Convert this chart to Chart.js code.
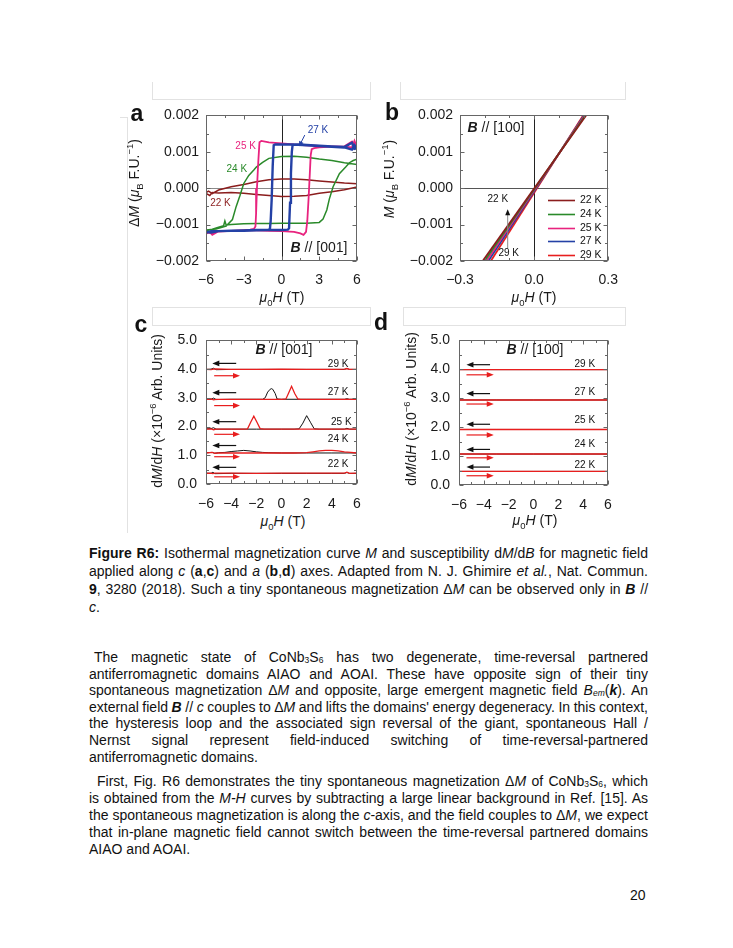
<!DOCTYPE html>
<html>
<head>
<meta charset="utf-8">
<script src="https://cdn.jsdelivr.net/npm/chart.js@4.4.0/dist/chart.umd.min.js"></script>
<style>
  body { margin: 0; width: 733px; height: 948px; position: relative; overflow: hidden; background: #fff;
         font-family: Arial, "Liberation Sans", sans-serif; color: #111; }
  canvas { position: absolute; }
  .t { position: absolute; white-space: nowrap; font-size: 14px; transform: translate(-50%, -50%); color: #1a1a1a; }
  .rot { transform: translate(-50%, -50%) rotate(-90deg); }
  .t sub, .t sup { font-size: 9.5px; line-height: 0; }
  .letter { position: absolute; font-weight: bold; font-size: 23px; transform: translate(-50%, -50%); }
  .box { position: absolute; border: 1px solid #e2e2e2; }
  .txt { position: absolute; left: 89px; width: 559px; font-size: 14px; color: #111; }
  .txt div { white-space: nowrap; text-align: left; }
  .txt sub { font-size: 8.5px; line-height: 0; vertical-align: -1px; }
  .pg { position: absolute; left: 630px; top: 887px; font-size: 14px; }
</style>
</head>
<body>

<!-- faint crop frames of the original figure -->
<div class="box" style="left:152px;top:82px;width:217px;height:17px;border-top:none"></div>
<div class="box" style="left:400px;top:82px;width:224px;height:17px;border-top:none"></div>
<div class="box" style="left:152px;top:307px;width:217px;height:17px"></div>
<div class="box" style="left:403px;top:307px;width:221px;height:17px"></div>
<div class="box" style="left:120px;top:117px;width:7px;height:415px;border-top:1px solid #e2e2e2;border-right:1px solid #e2e2e2;border-left:none;border-bottom:none"></div>

<canvas id="chartA" width="235" height="190" style="left:140px;top:100px"></canvas>
<canvas id="chartB" width="235" height="190" style="left:394px;top:100px"></canvas>
<canvas id="chartC" width="235" height="190" style="left:140px;top:323px"></canvas>
<canvas id="chartD" width="235" height="190" style="left:393px;top:323px"></canvas>

<div class="letter" style="left:137px;top:113px">a</div>
<div class="letter" style="left:392px;top:112px">b</div>
<div class="letter" style="left:141px;top:324px">c</div>
<div class="letter" style="left:381px;top:322px">d</div>

<div class="t rot" style="left:134px;top:183px">Δ<i>M</i> (<i>μ</i><sub>B</sub> F.U.<sup>−1</sup>)</div>
<div class="t rot" style="left:389px;top:179px"><i>M</i> (<i>μ</i><sub>B</sub> F.U.<sup>−1</sup>)</div>
<div class="t rot" style="left:157px;top:411px">d<i>M</i>/d<i>H</i> (×10<sup>−6</sup> Arb. Units)</div>
<div class="t rot" style="left:411px;top:409px">d<i>M</i>/d<i>H</i> (×10<sup>−6</sup> Arb. Units)</div>

<div class="t" style="left:282px;top:297px"><i>μ</i><sub>0</sub><i>H</i> (T)</div>
<div class="t" style="left:534px;top:297px"><i>μ</i><sub>0</sub><i>H</i> (T)</div>
<div class="t" style="left:283px;top:521px"><i>μ</i><sub>0</sub><i>H</i> (T)</div>
<div class="t" style="left:535px;top:520px"><i>μ</i><sub>0</sub><i>H</i> (T)</div>

<div class="t" style="left:319px;top:247px"><b><i>B</i></b> // [001]</div>
<div class="t" style="left:496px;top:127px"><b><i>B</i></b> // [100]</div>
<div class="t" style="left:284px;top:349px"><b><i>B</i></b> // [001]</div>
<div class="t" style="left:535px;top:349px"><b><i>B</i></b> // [100]</div>

<div class="txt" style="top:544px;line-height:18px">
  <div><b>Figure R6:</b> Isothermal magnetization curve <i>M</i> and susceptibility d<i>M</i>/d<i>B</i> for magnetic field</div>
  <div>applied along <i>c</i> (<b>a</b>,<b>c</b>) and <i>a</i> (<b>b</b>,<b>d</b>) axes. Adapted from N. J. Ghimire <i>et al.</i>, Nat. Commun.</div>
  <div><b>9</b>, 3280 (2018). Such a tiny spontaneous magnetization Δ<i>M</i> can be observed only in <b><i>B</i></b> //</div>
  <div class="end"><i>c</i>.</div>
</div>

<div class="txt" style="top:649px;line-height:16.6px">
  <div style="padding-left:5px">The magnetic state of CoNb<sub>3</sub>S<sub>6</sub> has two degenerate, time-reversal partnered</div>
  <div>antiferromagnetic domains AIAO and AOAI. These have opposite sign of their tiny</div>
  <div>spontaneous magnetization Δ<i>M</i> and opposite, large emergent magnetic field <i>B<sub>em</sub></i>(<b><i>k</i></b>). An</div>
  <div>external field <b><i>B</i></b> // <i>c</i> couples to Δ<i>M</i> and lifts the domains' energy degeneracy. In this context,</div>
  <div>the hysteresis loop and the associated sign reversal of the giant, spontaneous Hall /</div>
  <div>Nernst signal represent field-induced switching of time-reversal-partnered</div>
  <div class="end">antiferromagnetic domains.</div>
</div>

<div class="txt" style="top:773px;line-height:17px">
  <div style="padding-left:8px">First, Fig. R6 demonstrates the tiny spontaneous magnetization Δ<i>M</i> of CoNb<sub>3</sub>S<sub>6</sub>, which</div>
  <div>is obtained from the <i>M-H</i> curves by subtracting a large linear background in Ref. [15]. As</div>
  <div>the spontaneous magnetization is along the <i>c</i>-axis, and the field couples to Δ<i>M</i>, we expect</div>
  <div>that in-plane magnetic field cannot switch between the time-reversal partnered domains</div>
  <div class="end">AIAO and AOAI.</div>
</div>

<div class="pg">20</div>

<script>
// ---- panel a: spontaneous magnetization loops (field in T, dM in muB/F.U.)
const a22H = [6,5,4,3,2,1,0,-1,-2,-3,-4,-5,-5.5,-5.8,-6, -6,-5.7,-5.5,-5,-4,-3,-2,-1,0,1,2,3,4,5,6];
const a22M = [0.00012,0.00014,0.00017,0.0002,0.00023,0.00025,0.00025,0.00023,0.00018,0.0001,0.00004,-0.00005,-0.00015,-0.00008,-0.00012,
              -0.00014,-0.0002,-0.00012,-0.00013,-0.00012,-0.00014,-0.00017,-0.0002,-0.00023,-0.00022,-0.0002,-0.00014,-0.0001,-0.00004,0.00003];
const a24H = [6,5,4,3,2,1,0,-1,-1.5,-2,-2.2,-2.6,-3,-3.3,-3.6,-3.9,-4.4,-5.2,-6,
              -6,-5.5,-5,-4.6,-4.5,-4.4,-4,-3,-2,-1,0,1,2,3,3.3,3.6,3.8,4.1,4.6,5.1,5.4,5.7,6];
const a24M = [0.00065,0.0007,0.00076,0.0008,0.00085,0.00088,0.00087,0.00082,0.00071,0.00058,0.0005,0.00035,0.00013,-0.0002,-0.0005,-0.00086,-0.00104,-0.00112,-0.00115,
              -0.00117,-0.00113,-0.00107,-0.00103,-0.0009,-0.00101,-0.001,-0.00098,-0.00097,-0.00097,-0.00096,-0.00096,-0.00096,-0.00094,-0.00085,-0.0006,-0.0003,0.00004,0.0004,0.00058,0.0007,0.00076,0.0008];
const a25H = [6,5.8,5.6,5,4,3,2,1,0,-1,-1.6,-1.75,-1.85,-1.95,-2.02,-2.07,-2.2,-2.5,-3,-4,-5,-5.5,-6,
              -6,-5.7,-5.5,-5,-4,-3,-2,-1,0,1,1.5,1.75,1.95,2.05,2.15,2.25,2.32,2.4,2.6,3,4,5,5.6,5.8,6];
const a25M = [0.00112,0.0013,0.00112,0.00114,0.00115,0.00116,0.00118,0.0012,0.00123,0.00126,0.0013,0.00126,0.0007,0.0,-0.0007,-0.00105,-0.00112,-0.00114,-0.00115,-0.00117,-0.00119,-0.00125,-0.0012,
              -0.00125,-0.0012,-0.00128,-0.00118,-0.00117,-0.00116,-0.00116,-0.00117,-0.00118,-0.0012,-0.00124,-0.00128,-0.0012,-0.0009,-0.0003,0.0004,0.0009,0.00107,0.0011,0.00112,0.00114,0.00115,0.00128,0.00112,0.00112];
const a27H = [6,5.8,5.6,5,4,3,2,1,0,-0.5,-0.62,-0.7,-0.78,-0.86,-0.92,-1.1,-2,-3,-4,-5,-5.6,-6,
              -6,-5.6,-5,-4,-3,-2,-1,0,0.5,0.6,0.68,0.75,0.82,0.88,1.0,1.5,2,3,4,5,5.6,5.8,6];
const a27M = [0.00108,0.00118,0.00106,0.00112,0.00114,0.00116,0.00118,0.0012,0.0012,0.0012,0.00118,0.0006,-0.0003,-0.0009,-0.00112,-0.00115,-0.00116,-0.00117,-0.00117,-0.00118,-0.00122,-0.0012,
              -0.00122,-0.00118,-0.00118,-0.00117,-0.00116,-0.00115,-0.00115,-0.00115,-0.00114,-0.0011,-0.0004,0.0004,0.001,0.00118,0.0012,0.0012,0.00119,0.00117,0.00115,0.00113,0.00125,0.00108,0.0011];

// ---- panel b: in-plane M-H (linear)
const temps = ['22 K', '24 K', '25 K', '27 K', '29 K'];
const bH = [-0.25, 0.25];
const bM = [
  [-0.0024, 0.00238],
  [-0.00248, 0.00242],
  [-0.00257, 0.00246],
  [-0.00267, 0.0025],
  [-0.0028, 0.00255]
];

// ---- panel c: dM/dH, B // [001], offset curves (black = down sweep, red = up sweep)
const c22H = [-6,-5.6,-5.45,-5.3,-4,-2,0,2,4,5,5.2,5.4,6];
const c22Down = [0.38,0.37,0.41,0.36,0.37,0.37,0.37,0.37,0.37,0.37,0.4,0.37,0.37];
const c22Up   = [0.37,0.38,0.36,0.38,0.38,0.37,0.38,0.38,0.38,0.38,0.41,0.37,0.38];
const c24DownH = [-6,-5.5,-5.3,-5,-4.5,-4,-3.5,-3,-2.5,-2,-1.5,-1,0,2,4,6];
const c24Down  = [1.09,1.1,1.07,1.09,1.1,1.13,1.15,1.17,1.15,1.12,1.1,1.09,1.08,1.08,1.08,1.08];
const c24UpH = [-6,-5.5,-5.3,-5,-4,-2,0,1,2,2.5,3,3.5,4,4.5,5,5.5,6];
const c24Up  = [1.08,1.1,1.07,1.08,1.08,1.08,1.08,1.08,1.09,1.12,1.15,1.17,1.17,1.15,1.12,1.1,1.08];
const c25DownH = [-6,-5.6,-5.4,-5.2,-4,-2,0,1,1.4,1.7,2.0,2.3,2.6,3,4,5,5.2,5.4,6];
const c25Down  = [1.92,1.93,1.96,1.91,1.91,1.91,1.91,1.91,1.92,2.12,2.38,2.15,1.92,1.91,1.91,1.91,1.94,1.91,1.91];
const c25UpH = [-6,-5.6,-5.4,-5.2,-4,-3,-2.7,-2.45,-2.2,-1.95,-1.7,-1.4,-1,0,2,4,6];
const c25Up  = [1.91,1.92,1.89,1.91,1.91,1.91,1.92,2.15,2.36,2.15,1.93,1.91,1.91,1.91,1.91,1.91,1.91];
const c27DownH = [-6,-5.6,-5.4,-5.2,-4,-2,-1.5,-1.3,-1.1,-0.9,-0.8,-0.7,-0.5,-0.35,0,2,4,5,5.2,5.4,6];
const c27Down  = [2.96,2.95,2.99,2.94,2.95,2.95,2.95,3.0,3.2,3.3,3.32,3.3,3.15,2.96,2.95,2.95,2.95,2.95,2.97,2.95,2.95];
const c27UpH = [-6,-5.6,-5.4,-5.2,-4,-2,0,0.35,0.55,0.8,1.05,1.3,1.5,2,4,6];
const c27Up  = [2.95,2.96,2.93,2.95,2.95,2.95,2.95,2.96,3.15,3.4,3.15,2.96,2.95,2.95,2.95,2.95];
const c29H = [-6,-5.6,-5.4,-5.2,-4,-2,0,2,4,5,5.2,5.4,6];
const c29Down = [3.99,4.0,4.03,3.98,3.99,3.99,3.99,3.99,3.99,3.99,4.02,3.99,3.99];
const c29Up   = [3.99,3.98,4.0,4.01,3.99,3.99,4.0,3.99,3.99,4.0,4.02,3.99,3.99];

// ---- panel d: dM/dH, B // [100], flat curves
const dH = [-6,-3,0,3,6];
const d22 = [0.47,0.47,0.47,0.47,0.47];
const d24 = [1.07,1.07,1.07,1.07,1.07];
const d25 = [1.92,1.92,1.92,1.92,1.92];
const d27 = [2.94,2.94,2.94,2.94,2.94];
const d29 = [3.99,3.99,3.99,3.99,3.99];

// sweep-direction arrows (levels) for c and d
const cArrowDown = [0.58, 1.34, 2.17, 3.18, 4.2];
const cArrowUp   = [0.25, 0.95, 1.73, 2.73, 3.77];
const dArrowDown = [0.62, 1.23, 2.1, 3.16, 4.16];
const dArrowUp   = [0.32, 0.94, 1.73, 2.8, 3.81];

const col = { k22: '#8b1d1d', k24: '#2a8a2a', k25: '#e8237e', k27: '#2441a6', k29: '#e81e1e' };
const FONT = 'Arial, "Liberation Sans", sans-serif';

// justify the text lines by word spacing (keeps the original line breaks)
document.querySelectorAll('.txt div').forEach(div => {
  div.innerHTML = '<span>' + div.innerHTML.trim() + '</span>';
  if (div.classList.contains('end')) return;
  const span = div.firstChild;
  const pad = parseFloat(div.style.paddingLeft || 0);
  const w = span.getBoundingClientRect().width;
  const gaps = (span.textContent.match(/ +/g) || []).length;
  if (gaps) span.style.wordSpacing = ((559 - pad - w) / gaps) + 'px';
});

function pts(xs, ys) { return xs.map((x, i) => ({ x: x, y: ys[i] })); }
function minus(s) { return s.replace('-', '\u2212'); }
function line(label, xs, ys, color, width) {
  return { label: label, data: pts(xs, ys), borderColor: color, backgroundColor: color,
           borderWidth: width, showLine: true, pointRadius: 0, tension: 0 };
}

// frame, inward ticks, zero lines, notes, arrows, key
function deco(cfg) {
  return {
    id: 'deco',
    beforeDatasetsDraw(chart) {
      const { ctx, chartArea: a, scales: { x, y } } = chart;
      ctx.save();
      (cfg.zero || []).forEach(z => {
        ctx.strokeStyle = z.color;
        ctx.lineWidth = 1;
        ctx.beginPath();
        if (z.axis === 'x') {
          const px = Math.round(x.getPixelForValue(0)) + 0.5;
          ctx.moveTo(px, a.top); ctx.lineTo(px, a.bottom);
        } else {
          const py = Math.round(y.getPixelForValue(0)) + 0.5;
          ctx.moveTo(a.left, py); ctx.lineTo(a.right, py);
        }
        ctx.stroke();
      });
      ctx.restore();
    },
    afterDatasetsDraw(chart) {
      const { ctx, chartArea: a, scales: { x, y } } = chart;
      ctx.save();
      ctx.strokeStyle = '#666';
      ctx.lineWidth = 1;
      const L = Math.round(a.left) + 0.5, R = Math.round(a.right) - 0.5;
      const T = Math.round(a.top) + 0.5, B = Math.round(a.bottom) - 0.5;
      ctx.strokeRect(L, T, R - L, B - T);

      ctx.beginPath();
      const n = Math.round((x.max - x.min) / cfg.xMinor);
      for (let i = 0; i <= n; i++) {
        const v = x.min + i * cfg.xMinor;
        const major = Math.abs(v / cfg.xMajor - Math.round(v / cfg.xMajor)) < 1e-6;
        const len = major ? 4 : 2.5;
        const px = Math.round(x.getPixelForValue(v)) + 0.5;
        ctx.moveTo(px, B); ctx.lineTo(px, B - len);
        ctx.moveTo(px, T); ctx.lineTo(px, T + len);
      }
      const m = Math.round((y.max - y.min) / cfg.yMinor);
      for (let i = 0; i <= m; i++) {
        const v = y.min + i * cfg.yMinor;
        const major = Math.abs(v / cfg.yMajor - Math.round(v / cfg.yMajor)) < 1e-6;
        const len = major ? 4 : 2.5;
        const py = Math.round(y.getPixelForValue(v)) + 0.5;
        ctx.moveTo(L, py); ctx.lineTo(L + len, py);
        ctx.moveTo(R, py); ctx.lineTo(R - len, py);
      }
      ctx.stroke();

      // arrows
      (cfg.arrows || []).forEach(ar => {
        const x0 = x.getPixelForValue(ar.x0), y0 = y.getPixelForValue(ar.y0);
        const x1 = x.getPixelForValue(ar.x1), y1 = y.getPixelForValue(ar.y1);
        const ang = Math.atan2(y1 - y0, x1 - x0);
        const hl = ar.head || 7, hw = ar.hw || 2.8;
        ctx.strokeStyle = ar.shaft || ar.color;
        ctx.lineWidth = ar.width || 1.2;
        ctx.beginPath();
        ctx.moveTo(x0, y0);
        ctx.lineTo(x1 - Math.cos(ang) * hl * 0.8, y1 - Math.sin(ang) * hl * 0.8);
        ctx.stroke();
        ctx.fillStyle = ar.color;
        ctx.beginPath();
        ctx.moveTo(x1, y1);
        ctx.lineTo(x1 - Math.cos(ang) * hl - Math.sin(ang) * hw, y1 - Math.sin(ang) * hl + Math.cos(ang) * hw);
        ctx.lineTo(x1 - Math.cos(ang) * hl + Math.sin(ang) * hw, y1 - Math.sin(ang) * hl - Math.cos(ang) * hw);
        ctx.closePath();
        ctx.fill();
      });

      // text notes
      ctx.font = '10px ' + FONT;
      ctx.textAlign = 'center';
      ctx.textBaseline = 'middle';
      (cfg.notes || []).forEach(nt => {
        ctx.fillStyle = nt.color || '#111';
        ctx.fillText(nt.text, x.getPixelForValue(nt.x), y.getPixelForValue(nt.y));
      });

      // line key (panel b)
      if (cfg.key) {
        const k = cfg.key;
        ctx.textAlign = 'left';
        ctx.font = '10.5px ' + FONT;
        chart.data.datasets.forEach((ds, i) => {
          const py = Math.round(a.top + k.top + i * k.step) + 0.5;
          ctx.strokeStyle = ds.borderColor;
          ctx.lineWidth = 1.6;
          ctx.beginPath();
          ctx.moveTo(a.left + k.left, py);
          ctx.lineTo(a.left + k.left + k.len, py);
          ctx.stroke();
          ctx.fillStyle = '#111';
          ctx.fillText(ds.label, a.left + k.left + k.len + 5, py);
        });
      }
      ctx.restore();
    }
  };
}

function panel(id, box, plot, datasets, sx, sy, cfg) {
  const tickFont = { family: FONT, size: 14 };
  new Chart(document.getElementById(id), {
    type: 'scatter',
    data: { datasets: datasets },
    options: {
      responsive: false,
      animation: false,
      layout: { padding: { top: plot.t - box.y, right: box.x + box.w - plot.r, left: 0, bottom: 0 } },
      plugins: { legend: { display: false }, tooltip: { enabled: false } },
      scales: {
        x: {
          type: 'linear', min: sx.min, max: sx.max,
          grid: { display: false, drawTicks: false }, border: { display: false },
          ticks: { stepSize: sx.step, color: '#1a1a1a', font: tickFont, padding: sx.pad, maxRotation: 0,
                   autoSkip: false, callback: sx.fmt },
          afterFit: s => { s.height = box.y + box.h - plot.b; }
        },
        y: {
          type: 'linear', min: sy.min, max: sy.max,
          grid: { display: false, drawTicks: false }, border: { display: false },
          ticks: { stepSize: sy.step, color: '#1a1a1a', font: tickFont, padding: sy.pad, autoSkip: false,
                   callback: sy.fmt },
          afterFit: s => { s.width = plot.l - box.x; }
        }
      }
    },
    plugins: [deco(cfg)]
  });
}

const fmtInt = v => minus(String(Math.round(v)));
const fmt1 = v => minus((Math.abs(v) < 1e-9 ? 0 : v).toFixed(1));
const fmt3 = v => minus((Math.abs(v) < 1e-9 ? 0 : v).toFixed(3));

// panel a
panel('chartA', { x: 140, y: 100, w: 235, h: 190 }, { l: 206, t: 112, r: 357, b: 261 },
  [
    line('27 K', a27H, a27M, col.k27, 2.4),
    line('25 K', a25H, a25M, col.k25, 1.8),
    line('24 K', a24H, a24M, col.k24, 1.5),
    line('22 K', a22H, a22M, col.k22, 1.5)
  ],
  { min: -6, max: 6, step: 3, pad: 11, fmt: fmtInt },
  { min: -0.002, max: 0.002, step: 0.001, pad: 7, fmt: fmt3 },
  {
    xMajor: 3, xMinor: 1.5, yMajor: 0.001, yMinor: 0.0005,
    zero: [{ axis: 'y', color: '#8a8a8a' }, { axis: 'x', color: '#222' }],
    notes: [
      { x: 2.9, y: 0.0016, text: '27 K', color: col.k27 },
      { x: -2.85, y: 0.00115, text: '25 K', color: col.k25 },
      { x: -3.55, y: 0.00052, text: '24 K', color: col.k24 },
      { x: -4.85, y: -0.0004, text: '22 K', color: col.k22 }
    ],
    arrows: [{ x0: 1.85, y0: 0.00146, x1: 1.4, y1: 0.00115, color: col.k27, head: 5, hw: 2.5, width: 1 }]
  });

// panel b
panel('chartB', { x: 394, y: 100, w: 235, h: 190 }, { l: 460, t: 112, r: 609, b: 261 },
  temps.map((t, i) => line(t, bH, bM[i], [col.k22, col.k24, col.k25, col.k27, col.k29][i], 1.8)),
  { min: -0.3, max: 0.3, step: 0.3, pad: 11, fmt: fmt1 },
  { min: -0.002, max: 0.002, step: 0.001, pad: 7, fmt: fmt3 },
  {
    xMajor: 0.3, xMinor: 0.1, yMajor: 0.001, yMinor: 0.0005,
    zero: [{ axis: 'y', color: '#555' }, { axis: 'x', color: '#222' }],
    notes: [
      { x: -0.147, y: -0.00029, text: '22 K' },
      { x: -0.103, y: -0.00178, text: '29 K' }
    ],
    arrows: [{ x0: -0.107, y0: -0.00165, x1: -0.107, y1: -0.00058, color: '#111', shaft: '#888', head: 6, hw: 2.5, width: 1 }],
    key: { left: 88, len: 27, top: 85, step: 13.6 }
  });

// panel c
const cDown = '#111', cUp = '#e81e1e';
const arrowsFor = (down, up, xd0, xd1, xu0, xu1) => down.map(v => ({ x0: xd0, y0: v, x1: xd1, y1: v, color: '#111' }))
  .concat(up.map(v => ({ x0: xu0, y0: v, x1: xu1, y1: v, color: '#e81e1e' })));

panel('chartC', { x: 140, y: 323, w: 235, h: 190 }, { l: 206, t: 335, r: 357, b: 484 },
  [
    line('22 K up', c22H, c22Up, cUp, 1.3), line('22 K down', c22H, c22Down, cDown, 1),
    line('24 K up', c24UpH, c24Up, cUp, 1.3), line('24 K down', c24DownH, c24Down, cDown, 1),
    line('25 K up', c25UpH, c25Up, cUp, 1.3), line('25 K down', c25DownH, c25Down, cDown, 1),
    line('27 K up', c27UpH, c27Up, cUp, 1.3), line('27 K down', c27DownH, c27Down, cDown, 1),
    line('29 K up', c29H, c29Up, cUp, 1.3), line('29 K down', c29H, c29Down, cDown, 1)
  ],
  { min: -6, max: 6, step: 2, pad: 12, fmt: fmtInt },
  { min: 0, max: 5, step: 1, pad: 9, fmt: fmt1 },
  {
    xMajor: 2, xMinor: 1, yMajor: 1, yMinor: 0.5,
    notes: [
      { x: 4.5, y: 4.18, text: temps[4] }, { x: 4.5, y: 3.18, text: temps[3] },
      { x: 4.75, y: 2.15, text: temps[2] }, { x: 4.5, y: 1.57, text: temps[1] },
      { x: 4.5, y: 0.69, text: temps[0] }
    ],
    arrows: arrowsFor(cArrowDown, cArrowUp, -3.6, -5.5, -5.35, -3.3)
  });

// panel d
panel('chartD', { x: 393, y: 323, w: 235, h: 190 }, { l: 459, t: 335, r: 608, b: 485 },
  [
    line('22 K up', dH, d22, cUp, 1.4), line('24 K up', dH, d24, cUp, 1.4), line('25 K up', dH, d25, cUp, 1.4),
    line('27 K up', dH, d27, cUp, 1.4), line('29 K up', dH, d29, cUp, 1.4),
    line('22 K down', dH, d22, cDown, 1), line('24 K down', dH, d24, cDown, 1), line('25 K down', dH, d25, cDown, 1),
    line('27 K down', dH, d27, cDown, 1), line('29 K down', dH, d29, cDown, 1)
  ],
  { min: -6, max: 6, step: 2, pad: 12, fmt: fmtInt },
  { min: 0, max: 5, step: 1, pad: 9, fmt: fmt1 },
  {
    xMajor: 2, xMinor: 1, yMajor: 1, yMinor: 0.5,
    notes: [
      { x: 4.13, y: 4.19, text: temps[4] }, { x: 4.13, y: 3.21, text: temps[3] },
      { x: 4.13, y: 2.24, text: temps[2] }, { x: 4.13, y: 1.4, text: temps[1] },
      { x: 4.13, y: 0.69, text: temps[0] }
    ],
    arrows: arrowsFor(dArrowDown, dArrowUp, -3.5, -5.4, -5.4, -3.2)
  });
</script>
</body>
</html>
